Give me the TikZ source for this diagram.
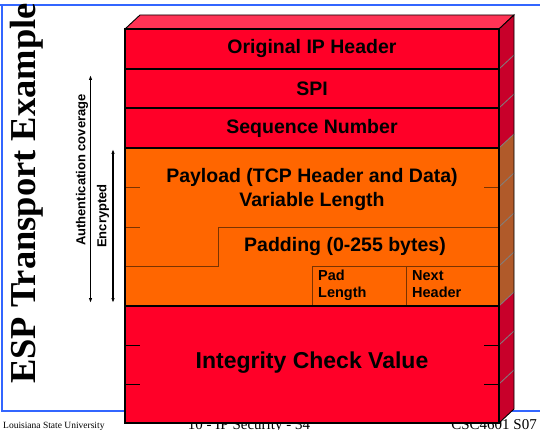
\documentclass[tikz,border=0pt]{standalone}
\usepackage{fontspec}
\setmainfont{Liberation Serif}
\setsansfont{Liberation Sans}
\usetikzlibrary{arrows.meta}
\definecolor{frontred}{HTML}{FF0028}
\definecolor{topred}{HTML}{FF3355}
\definecolor{sidered}{HTML}{C8002A}
\definecolor{orangef}{HTML}{FF6600}
\definecolor{sideorange}{HTML}{B05A2A}
\definecolor{frameblue}{HTML}{3366FF}
\definecolor{tickbrown}{HTML}{7A3300}
\begin{document}
\begin{tikzpicture}[x=1pt,y=-1pt,
  fieldlbl/.style={font=\sffamily\bfseries\fontsize{19.5}{24}\selectfont, inner sep=0pt, align=center},
  smalllbl/.style={font=\sffamily\bfseries\fontsize{14.5}{17}\selectfont, inner sep=0pt, align=left, anchor=north west},
  icvlbl/.style={font=\sffamily\bfseries\fontsize{23}{26}\selectfont, inner sep=0pt},
  sidelbl/.style={font=\sffamily\bfseries\fontsize{13}{15}\selectfont, inner sep=0pt, rotate=90},
  titlelbl/.style={font=\bfseries\fontsize{36.5}{40}\selectfont, inner sep=0pt, rotate=90, anchor=base west},
  footsmall/.style={font=\fontsize{9.5}{11}\selectfont, inner sep=0pt},
  footbig/.style={font=\fontsize{15}{17}\selectfont, inner sep=0pt},
  frameline/.style={draw=frameblue, line width=1.3pt},
  rowline/.style={draw=black, line width=1.4pt},
  thinline/.style={draw=tickbrown, line width=0.9pt},
  tickline/.style={draw=black, line width=0.9pt},
  sideline/.style={draw=gray, line width=0.8pt},
  coverarrow/.style={draw=black, line width=1.1pt, {Latex[length=5pt,width=3.5pt]}-{Latex[length=5pt,width=3.5pt]}}
]
\useasboundingbox (0,0) rectangle (540,430);
% frame
\draw[frameline] (0,5) -- (540,5);
\draw[frameline] (2,5) -- (2,411) -- (540,411);
% footer
\node[footsmall, anchor=base west] (univ) at (3,428) {Louisiana State University};
\node[footbig, anchor=base] (slideno) at (249,429) {10 - IP Security - 34};
\node[footbig, anchor=base east] (course) at (537,429) {CSC4601 S07};
% title
\node[titlelbl] (title) at (35,384) {ESP Transport Example};
% box front
\fill[frontred] (125,29) rectangle (499,148);
\fill[orangef] (125,148) rectangle (499,306);
\fill[frontred] (125,306) rectangle (499,423);
% top face
\filldraw[fill=topred, draw=black, line width=0.9pt] (125,29) -- (140,15) -- (514,15) -- (499,29) -- cycle;
% side faces
\fill[sidered] (499,29) -- (514,15) -- (514,134) -- (499,148) -- cycle;
\fill[sideorange] (499,148) -- (514,134) -- (514,292) -- (499,306) -- cycle;
\fill[sidered] (499,306) -- (514,292) -- (514,409) -- (499,423) -- cycle;
\foreach \yy in {69,108,148,187,227,266,306,345,384}
  \draw[sideline] (499,\yy) -- (514,\yy-14);
\draw[black, line width=0.9pt] (499,29) -- (514,15) -- (514,409) -- (499,423);
% inner lines
\draw[thinline] (125,187) -- (140,187);
\draw[thinline] (484,187) -- (499,187);
\draw[thinline] (125,227) -- (140,227);
\draw[thinline] (125,266) -- (218,266) -- (218,227) -- (499,227);
\draw[thinline] (312,306) -- (312,266) -- (499,266);
\draw[thinline] (406,266) -- (406,306);
\draw[tickline] (125,345) -- (140,345);
\draw[tickline] (484,345) -- (499,345);
\draw[tickline] (125,384) -- (140,384);
\draw[tickline] (484,384) -- (499,384);
% row separators
\draw[rowline] (125,69) -- (499,69);
\draw[rowline] (125,108) -- (499,108);
\draw[rowline] (125,148) -- (499,148);
\draw[rowline] (125,306) -- (499,306);
\draw[black, line width=1.2pt] (125,29) rectangle (499,423);
% labels
\node[fieldlbl] (iphdr) at (312,49) {Original IP Header};
\node[fieldlbl] (spi) at (312,89) {SPI};
\node[fieldlbl] (seq) at (312,128) {Sequence Number};
\node[fieldlbl] (payload) at (312,190) {Payload (TCP Header and Data)\\Variable Length};
\node[fieldlbl] (padding) at (345,247) {Padding (0-255 bytes)};
\node[smalllbl] (padlen) at (318,270) {Pad\\Length};
\node[smalllbl] (nexthdr) at (412,270) {Next\\Header};
\node[icvlbl] (icv) at (312,363) {Integrity Check Value};
% coverage
\node[sidelbl] (authlbl) at (82,170) {Authentication coverage};
\node[sidelbl] (enclbl) at (103,216) {Encrypted};
\coordinate (authtop) at (90.5,75);
\coordinate (authbot) at (90.5,303);
\coordinate (enctop) at (113,149);
\coordinate (encbot) at (113,303);
\draw[coverarrow] (authtop) -- (authbot);
\draw[coverarrow] (enctop) -- (encbot);
\end{tikzpicture}
\end{document}
